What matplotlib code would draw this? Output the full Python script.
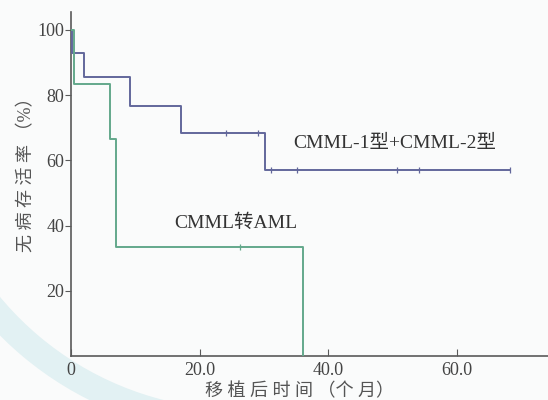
import matplotlib
matplotlib.use('Agg')
import matplotlib.pyplot as plt
from matplotlib.patches import Wedge

plt.rcParams['font.family'] = ['Liberation Serif', 'Noto Sans CJK SC']

# Kaplan-Meier steps (months, %)
blue_t = [0, 0.2, 2.0, 9.2, 17.1, 30.1, 68.2]
blue_s = [100, 92.9, 85.7, 76.7, 68.3, 57.1, 57.1]
blue_cens_t = [24.1, 29.1, 31.1, 35.1, 50.7, 54.1, 68.2]
blue_cens_s = [68.3, 68.3, 57.1, 57.1, 57.1, 57.1, 57.1]

green_t = [0, 0.4, 6.1, 7.0, 36.1]
green_s = [100, 83.3, 66.7, 33.3, 0]
green_cens_t = [26.2]
green_cens_s = [33.3]

xticks = [0, 20, 40, 60]
xticklabels = ['0', '20.0', '40.0', '60.0']
yticks = [20, 40, 60, 80, 100]

blue = '#62679b'
green = '#63a88b'
axc = '#5a5a5a'

fig = plt.figure(figsize=(5.48, 4.0), dpi=100)
fig.patch.set_facecolor('#fafbfb')

# faint watermark arc in the lower left
arc = Wedge((2.4, 3.025), 3.38, 195, 265, width=0.26, facecolor='#e2f1f3',
            edgecolor='none', transform=fig.dpi_scale_trans, zorder=-5)
fig.patches.append(arc)

ax = fig.add_axes([0.1296, 0.11, 0.8704, 0.86])
ax.set_facecolor('none')

ax.step(blue_t, blue_s, where='post', color=blue, lw=1.4, zorder=3)
ax.step(green_t, green_s, where='post', color=green, lw=1.4, zorder=3)
ax.plot(blue_cens_t, blue_cens_s, ls='none', marker='|', ms=5, mew=0.9, color=blue, zorder=3)
ax.plot(green_cens_t, green_cens_s, ls='none', marker='|', ms=5, mew=0.9, color=green, zorder=3)

ax.set_xlim(0, 74.1)
ax.set_ylim(0, 105.5)

for s in ['top', 'right']:
    ax.spines[s].set_visible(False)
for s in ['left', 'bottom']:
    ax.spines[s].set_color(axc)
    ax.spines[s].set_linewidth(1.2)

ax.set_xticks(xticks)
ax.set_xticklabels(xticklabels)
ax.set_yticks(yticks)
ax.tick_params(axis='x', direction='in', length=5, color=axc, labelsize=13, labelcolor='#444444', pad=4)
ax.tick_params(axis='y', direction='out', length=4, color=axc, labelsize=13, labelcolor='#444444', pad=1)

ax.text(50.3, 65.3, 'CMML-1型+CMML-2型', fontsize=14, color='#333333', ha='center', va='center')
ax.text(25.6, 40.8, 'CMML转AML', fontsize=14, color='#333333', ha='center', va='center')

ax.set_xlabel('移 植 后 时 间 （个 月）', fontsize=13, color='#555555')
ax.xaxis.set_label_coords(0.48, -0.078)
ax.set_ylabel('无 病 存 活 率 （%）', fontsize=13, color='#555555')
ax.yaxis.set_label_coords(-0.075, 0.54)

fig.savefig('out.png', dpi=100, facecolor=fig.get_facecolor())
